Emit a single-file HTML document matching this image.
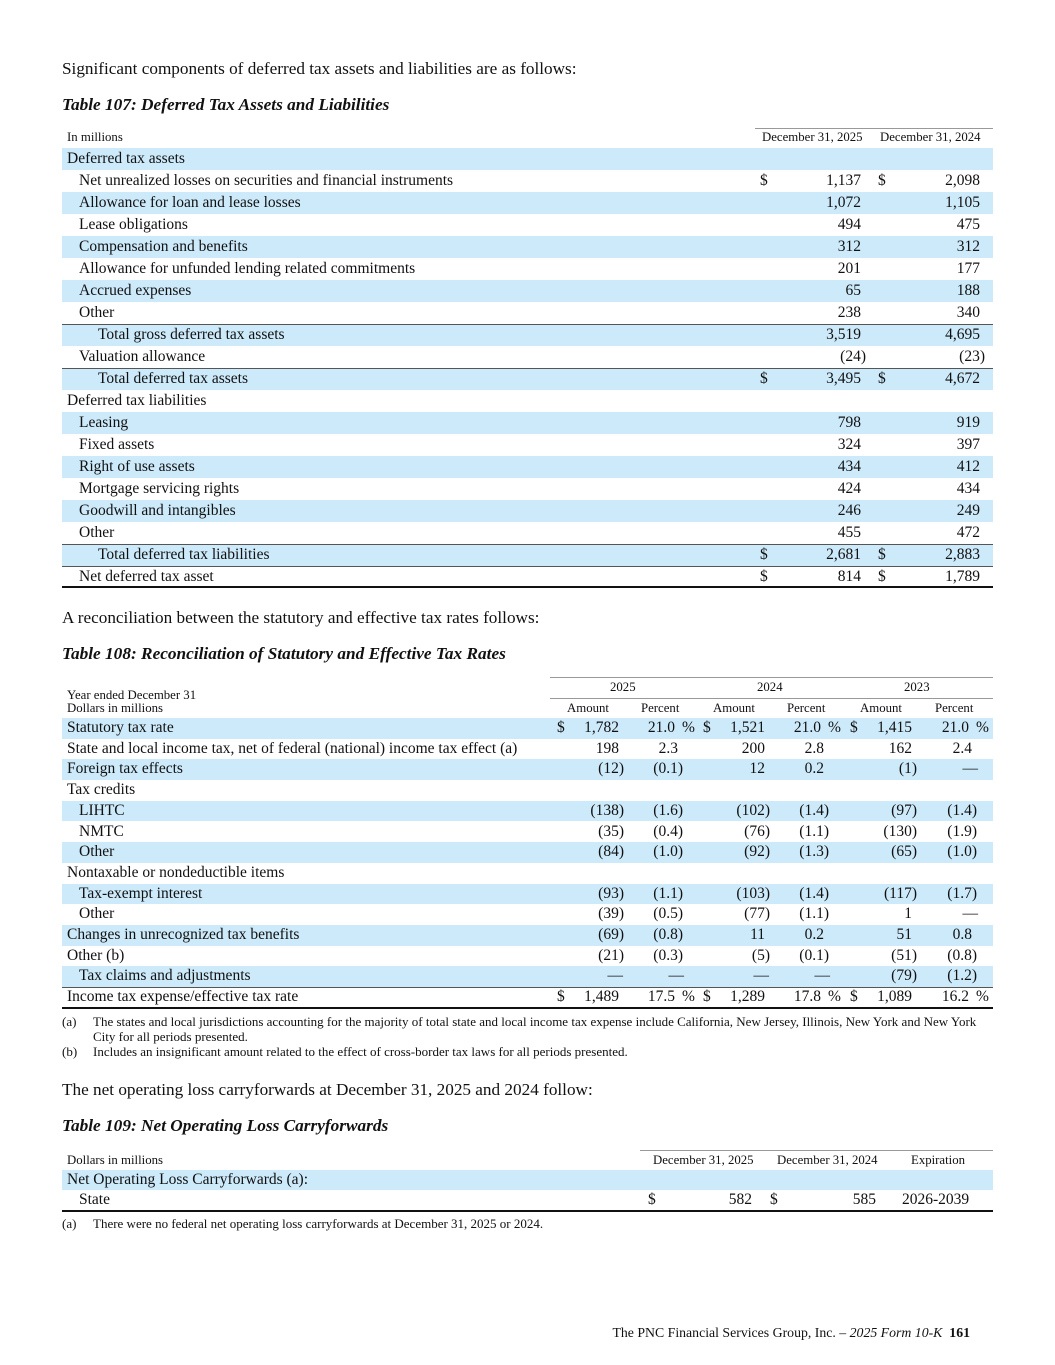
<!DOCTYPE html>
<html><head><meta charset="utf-8">
<style>
body{margin:0;background:#fff;}
#page{position:relative;width:1055px;height:1365px;overflow:hidden;font-family:"Liberation Serif",serif;color:#111;}
.a{position:absolute;white-space:nowrap;}
.t{font-size:17.2px;}
.ti{font-size:17.3px;font-weight:bold;font-style:italic;}
.h{font-size:12.8px;}
.r{font-size:15.5px;}
.fn{font-size:13px;}
.band{position:absolute;background:#cdeafa;}
.ln{position:absolute;background:#999;height:1px;}
.bk{position:absolute;background:#111;height:2px;}
</style></head>
<body>
<div id="page">
<div class="a t" style="left:62px;top:59px">Significant components of deferred tax assets and liabilities are as follows:</div>
<div class="a ti" style="left:62px;top:95px">Table 107: Deferred Tax Assets and Liabilities</div>
<div class="a t" style="left:62px;top:608px">A reconciliation between the statutory and effective tax rates follows:</div>
<div class="a ti" style="left:62px;top:644px">Table 108: Reconciliation of Statutory and Effective Tax Rates</div>
<div class="a t" style="left:62px;top:1080px">The net operating loss carryforwards at December 31, 2025 and 2024 follow:</div>
<div class="a ti" style="left:62px;top:1116px">Table 109: Net Operating Loss Carryforwards</div>
<div class="a" style="right:85px;top:1325px;font-size:13.8px">The PNC Financial Services Group, Inc. – <i>2025 Form 10-K</i> &nbsp;<b>161</b></div>
</div>
<script>
const P=document.getElementById('page');
function add(cls,st,txt,name){const d=document.createElement('div');d.className=cls;d.style.cssText=st;if(txt!=null)d.textContent=txt;P.appendChild(d);


return d;}
function num(x,right,top,cls,name){
  const hang=/\)$/.test(x)?-5:0;
  add('a '+cls,'right:'+(1055-right+hang)+'px;top:'+top+'px',x,name);
}
// ---------- Table 107
const t107Labels=["Deferred tax assets","Net unrealized losses on securities and financial instruments","Allowance for loan and lease losses","Lease obligations","Compensation and benefits","Allowance for unfunded lending related commitments","Accrued expenses","Other","Total gross deferred tax assets","Valuation allowance","Total deferred tax assets","Deferred tax liabilities","Leasing","Fixed assets","Right of use assets","Mortgage servicing rights","Goodwill and intangibles","Other","Total deferred tax liabilities","Net deferred tax asset"];
const t107Indent=[0,1,1,1,1,1,1,1,2,1,2,0,1,1,1,1,1,1,2,1];
const t107Y25=["","1,137","1,072","494","312","201","65","238","3,519","(24)","3,495","","798","324","434","424","246","455","2,681","814"];
const t107Y24=["","2,098","1,105","475","312","177","188","340","4,695","(23)","4,672","","919","397","412","434","249","472","2,883","1,789"];
const t107Dollar=[1,10,18,19];
const t107Border=[8,10,18,19];
add('a h','left:67px;top:130px','In millions','t107-header-units');
add('ln','left:755px;top:128px;width:238px','', 't107-header-topline');
add('a h','left:762px;top:130px','December 31, 2025','t107-header-2025');
add('a h','left:880px;top:130px','December 31, 2024','t107-header-2024');
add('ln','left:62px;top:148px;width:931px','', 't107-header-line');
t107Labels.forEach((l,i)=>{const top=148+22*i;
  if(i%2==0) add('band','left:62px;top:'+top+'px;width:931px;height:22px','','t107-row-band');
  if(t107Border.includes(i)) add('ln','left:62px;top:'+top+'px;width:931px;background:#555','','t107-row-border');
  add('a r','left:'+(67+[0,12,31][t107Indent[i]])+'px;top:'+(top+2)+'px',l,'t107-row-label');
  if(t107Dollar.includes(i)){add('a r','left:760px;top:'+(top+2)+'px','$','t107-dollar-2025');add('a r','left:878px;top:'+(top+2)+'px','$','t107-dollar-2024');}
  if(t107Y25[i]) num(t107Y25[i],861,top+2,'r','t107-value-2025');
  if(t107Y24[i]) num(t107Y24[i],980,top+2,'r','t107-value-2024');
});
add('bk','left:62px;top:586px;width:931px','','t107-bottom-line');
// ---------- Table 108
const t108Labels=["Statutory tax rate","State and local income tax, net of federal (national) income tax effect (a)","Foreign tax effects","Tax credits","LIHTC","NMTC","Other","Nontaxable or nondeductible items","Tax-exempt interest","Other","Changes in unrecognized tax benefits","Other (b)","Tax claims and adjustments","Income tax expense/effective tax rate"];
const t108Indent=[0,0,0,0,1,1,1,0,1,1,0,0,1,0];
const amt25=["1,782","198","(12)","","(138)","(35)","(84)","","(93)","(39)","(69)","(21)","—","1,489"];
const pct25=["21.0","2.3","(0.1)","","(1.6)","(0.4)","(1.0)","","(1.1)","(0.5)","(0.8)","(0.3)","—","17.5"];
const amt24=["1,521","200","12","","(102)","(76)","(92)","","(103)","(77)","11","(5)","—","1,289"];
const pct24=["21.0","2.8","0.2","","(1.4)","(1.1)","(1.3)","","(1.4)","(1.1)","0.2","(0.1)","—","17.8"];
const amt23=["1,415","162","(1)","","(97)","(130)","(65)","","(117)","1","51","(51)","(79)","1,089"];
const pct23=["21.0","2.4","—","","(1.4)","(1.9)","(1.0)","","(1.7)","—","0.8","(0.8)","(1.2)","16.2"];
const t108Dollar=[0,13];
const amtRight=[619,765,912], pctRight=[678,824,972], dolX=[557,703,850];
add('ln','left:550px;top:677px;width:443px','','t108-header-topline');
[["2025",624],["2024",771],["2023",918]].forEach(([y,c])=>{add('a h','left:'+(c-14)+'px;top:680px',y,'t108-header-year');});
add('ln','left:550px;top:698px;width:443px','','t108-year-line');
add('a h','left:67px;top:688px','Year ended December 31','t108-header-year-ended');
add('a h','left:67px;top:701px','Dollars in millions','t108-header-units');
[0,1,2].forEach(k=>{add('a h','left:'+(amtRight[k]-52)+'px;top:701px','Amount','t108-header-amount');add('a h','left:'+(pctRight[k]-37)+'px;top:701px','Percent','t108-header-percent');});
add('ln','left:62px;top:718px;width:931px','','t108-header-line');
const amts=[amt25,amt24,amt23], pcts=[pct25,pct24,pct23];
t108Labels.forEach((l,i)=>{const top=718+20.7*i;
  if(i%2==0) add('band','left:62px;top:'+top+'px;width:931px;height:20.7px','','t108-row-band');
  if(i==13) add('ln','left:62px;top:'+top+'px;width:931px;background:#555','','t108-row-border');
  add('a r','left:'+(67+12*t108Indent[i])+'px;top:'+(top+1)+'px',l,'t108-row-label');
  [0,1,2].forEach(k=>{
    if(t108Dollar.includes(i)){add('a r','left:'+dolX[k]+'px;top:'+(top+1)+'px','$','t108-dollar');
      add('a r','left:'+(pctRight[k]+4)+'px;top:'+(top+1)+'px','%','t108-percent-sign');}
    const dash=amts[k][i]=='—';
    if(amts[k][i]) num(amts[k][i],amtRight[k]+(dash?4:0),top+1,'r','t108-amount');
    if(pcts[k][i]) num(pcts[k][i],pctRight[k]-(t108Dollar.includes(i)?3:0)+(pcts[k][i]=='—'?6:0),top+1,'r','t108-percent');
  });
});
add('bk','left:62px;top:1007px;width:931px','','t108-bottom-line');
add('a fn','left:62px;top:1014px','(a)','fn-a-mark');
add('a fn','left:93px;top:1014px','The states and local jurisdictions accounting for the majority of total state and local income tax expense include California, New Jersey, Illinois, New York and New York','fn-a-text');
add('a fn','left:93px;top:1029px','City for all periods presented.','fn-a-text-2');
add('a fn','left:62px;top:1044px','(b)','fn-b-mark');
add('a fn','left:93px;top:1044px','Includes an insignificant amount related to the effect of cross-border tax laws for all periods presented.','fn-b-text');
// ---------- Table 109
add('ln','left:640px;top:1150px;width:353px','','t109-header-topline');
add('a h','left:67px;top:1153px','Dollars in millions','t109-header-units');
add('a h','left:653px;top:1153px','December 31, 2025','t109-header-2025');
add('a h','left:777px;top:1153px','December 31, 2024','t109-header-2024');
add('a h','left:911px;top:1153px','Expiration','t109-header-expiration');
add('ln','left:62px;top:1170px;width:931px','','t109-header-line');
add('band','left:62px;top:1170px;width:931px;height:20px','','t109-row-band');
add('a r','left:67px;top:1171px','Net Operating Loss Carryforwards (a):','t109-row-label');
add('a r','left:79px;top:1191px','State','t109-row-label-state');
add('a r','left:648px;top:1191px','$','t109-dollar');
num('582',752,1191,'r','t109-value-2025');
add('a r','left:770px;top:1191px','$','t109-dollar');
num('585',876,1191,'r','t109-value-2024');
add('a r','left:902px;top:1191px','2026-2039','t109-expiration');
add('bk','left:62px;top:1210px;width:931px','','t109-bottom-line');
add('a fn','left:62px;top:1216px','(a)','fn-109-mark');
add('a fn','left:93px;top:1216px','There were no federal net operating loss carryforwards at December 31, 2025 or 2024.','fn-109-text');
</script>
</body></html>
